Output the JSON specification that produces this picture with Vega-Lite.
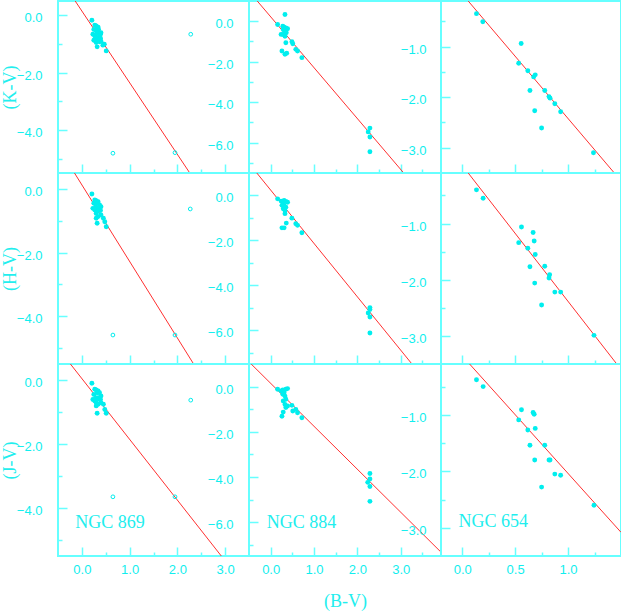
{
"$schema": "https://vega.github.io/schema/vega-lite/v6.json",
"padding": {"left": 0, "top": 0, "right": 0, "bottom": 0},
"background": "white",
"columns": 3,
"spacing": 0,
"bounds": "flush",
"datasets": {
"pts": [
{"p":"K869","x":0.21,"y":-0.17,"o":0},{"p":"K869","x":0.27,"y":-0.34,"o":0},{"p":"K869","x":0.30,"y":-0.37,"o":0},{"p":"K869","x":0.34,"y":-0.41,"o":0},{"p":"K869","x":0.25,"y":-0.49,"o":0},{"p":"K869","x":0.29,"y":-0.52,"o":0},{"p":"K869","x":0.35,"y":-0.49,"o":0},{"p":"K869","x":0.32,"y":-0.61,"o":0},{"p":"K869","x":0.23,"y":-0.66,"o":0},{"p":"K869","x":0.37,"y":-0.64,"o":0},{"p":"K869","x":0.40,"y":-0.61,"o":0},{"p":"K869","x":0.27,"y":-0.72,"o":0},{"p":"K869","x":0.30,"y":-0.78,"o":0},{"p":"K869","x":0.35,"y":-0.76,"o":0},{"p":"K869","x":0.39,"y":-0.80,"o":0},{"p":"K869","x":0.25,"y":-0.87,"o":0},{"p":"K869","x":0.32,"y":-0.87,"o":0},{"p":"K869","x":0.37,"y":-0.92,"o":0},{"p":"K869","x":0.40,"y":-0.90,"o":0},{"p":"K869","x":0.30,"y":-0.95,"o":0},{"p":"K869","x":0.47,"y":-1.01,"o":0},{"p":"K869","x":0.44,"y":-1.04,"o":0},{"p":"K869","x":0.32,"y":-1.10,"o":0},{"p":"K869","x":0.51,"y":-1.24,"o":0},{"p":"K869","x":0.39,"y":-0.66,"o":0},
{"p":"K869","x":2.28,"y":-0.66,"o":1},{"p":"K869","x":0.65,"y":-4.81,"o":1},{"p":"K869","x":1.95,"y":-4.79,"o":1},
{"p":"H869","x":0.21,"y":-0.16,"o":0},{"p":"H869","x":0.27,"y":-0.35,"o":0},{"p":"H869","x":0.30,"y":-0.37,"o":0},{"p":"H869","x":0.34,"y":-0.40,"o":0},{"p":"H869","x":0.25,"y":-0.45,"o":0},{"p":"H869","x":0.32,"y":-0.45,"o":0},{"p":"H869","x":0.37,"y":-0.50,"o":0},{"p":"H869","x":0.40,"y":-0.56,"o":0},{"p":"H869","x":0.29,"y":-0.56,"o":0},{"p":"H869","x":0.23,"y":-0.61,"o":0},{"p":"H869","x":0.35,"y":-0.61,"o":0},{"p":"H869","x":0.27,"y":-0.66,"o":0},{"p":"H869","x":0.32,"y":-0.71,"o":0},{"p":"H869","x":0.39,"y":-0.68,"o":0},{"p":"H869","x":0.30,"y":-0.77,"o":0},{"p":"H869","x":0.40,"y":-0.82,"o":0},{"p":"H869","x":0.34,"y":-0.87,"o":0},{"p":"H869","x":0.30,"y":-0.92,"o":0},{"p":"H869","x":0.45,"y":-0.92,"o":0},{"p":"H869","x":0.48,"y":-1.03,"o":0},{"p":"H869","x":0.32,"y":-1.08,"o":0},{"p":"H869","x":0.51,"y":-1.19,"o":0},
{"p":"H869","x":2.27,"y":-0.63,"o":1},{"p":"H869","x":0.65,"y":-4.59,"o":1},{"p":"H869","x":1.95,"y":-4.59,"o":1},
{"p":"J869","x":0.21,"y":-0.10,"o":0},{"p":"J869","x":0.27,"y":-0.29,"o":0},{"p":"J869","x":0.30,"y":-0.31,"o":0},{"p":"J869","x":0.34,"y":-0.34,"o":0},{"p":"J869","x":0.25,"y":-0.45,"o":0},{"p":"J869","x":0.32,"y":-0.40,"o":0},{"p":"J869","x":0.37,"y":-0.40,"o":0},{"p":"J869","x":0.40,"y":-0.50,"o":0},{"p":"J869","x":0.29,"y":-0.55,"o":0},{"p":"J869","x":0.23,"y":-0.61,"o":0},{"p":"J869","x":0.35,"y":-0.55,"o":0},{"p":"J869","x":0.27,"y":-0.66,"o":0},{"p":"J869","x":0.32,"y":-0.61,"o":0},{"p":"J869","x":0.39,"y":-0.61,"o":0},{"p":"J869","x":0.30,"y":-0.71,"o":0},{"p":"J869","x":0.40,"y":-0.71,"o":0},{"p":"J869","x":0.34,"y":-0.76,"o":0},{"p":"J869","x":0.30,"y":-0.81,"o":0},{"p":"J869","x":0.45,"y":-0.76,"o":0},{"p":"J869","x":0.48,"y":-0.92,"o":0},{"p":"J869","x":0.32,"y":-1.04,"o":0},{"p":"J869","x":0.51,"y":-1.04,"o":0},
{"p":"J869","x":2.28,"y":-0.63,"o":1},{"p":"J869","x":0.65,"y":-3.65,"o":1},{"p":"J869","x":1.95,"y":-3.65,"o":1},
{"p":"K884","x":0.33,"y":0.33,"o":0},{"p":"K884","x":0.16,"y":-0.16,"o":0},{"p":"K884","x":0.28,"y":-0.25,"o":0},{"p":"K884","x":0.31,"y":-0.29,"o":0},{"p":"K884","x":0.35,"y":-0.33,"o":0},{"p":"K884","x":0.39,"y":-0.37,"o":0},{"p":"K884","x":0.29,"y":-0.41,"o":0},{"p":"K884","x":0.33,"y":-0.49,"o":0},{"p":"K884","x":0.36,"y":-0.57,"o":0},{"p":"K884","x":0.24,"y":-0.65,"o":0},{"p":"K884","x":0.28,"y":-0.65,"o":0},{"p":"K884","x":0.33,"y":-0.74,"o":0},{"p":"K884","x":0.35,"y":-1.06,"o":0},{"p":"K884","x":0.49,"y":-1.01,"o":0},{"p":"K884","x":0.51,"y":-1.11,"o":0},{"p":"K884","x":0.58,"y":-1.39,"o":0},{"p":"K884","x":0.62,"y":-1.47,"o":0},{"p":"K884","x":0.26,"y":-1.47,"o":0},{"p":"K884","x":0.33,"y":-1.63,"o":0},{"p":"K884","x":0.37,"y":-1.58,"o":0},{"p":"K884","x":0.72,"y":-1.80,"o":0},{"p":"K884","x":2.29,"y":-5.28,"o":0},{"p":"K884","x":2.25,"y":-5.47,"o":0},{"p":"K884","x":2.29,"y":-5.72,"o":0},{"p":"K884","x":2.29,"y":-6.45,"o":0},
{"p":"H884","x":0.16,"y":-0.15,"o":0},{"p":"H884","x":0.24,"y":-0.25,"o":0},{"p":"H884","x":0.28,"y":-0.30,"o":0},{"p":"H884","x":0.31,"y":-0.22,"o":0},{"p":"H884","x":0.35,"y":-0.27,"o":0},{"p":"H884","x":0.39,"y":-0.30,"o":0},{"p":"H884","x":0.26,"y":-0.44,"o":0},{"p":"H884","x":0.31,"y":-0.44,"o":0},{"p":"H884","x":0.35,"y":-0.52,"o":0},{"p":"H884","x":0.29,"y":-0.59,"o":0},{"p":"H884","x":0.33,"y":-0.67,"o":0},{"p":"H884","x":0.33,"y":-0.81,"o":0},{"p":"H884","x":0.36,"y":-1.23,"o":0},{"p":"H884","x":0.49,"y":-1.01,"o":0},{"p":"H884","x":0.58,"y":-1.26,"o":0},{"p":"H884","x":0.62,"y":-1.33,"o":0},{"p":"H884","x":0.26,"y":-1.44,"o":0},{"p":"H884","x":0.31,"y":-1.44,"o":0},{"p":"H884","x":0.72,"y":-1.66,"o":0},{"p":"H884","x":2.29,"y":-4.99,"o":0},{"p":"H884","x":2.29,"y":-5.08,"o":0},{"p":"H884","x":2.25,"y":-5.23,"o":0},{"p":"H884","x":2.29,"y":-5.41,"o":0},{"p":"H884","x":2.29,"y":-6.12,"o":0},
{"p":"J884","x":0.16,"y":-0.12,"o":0},{"p":"J884","x":0.24,"y":-0.19,"o":0},{"p":"J884","x":0.28,"y":-0.15,"o":0},{"p":"J884","x":0.31,"y":-0.27,"o":0},{"p":"J884","x":0.35,"y":-0.12,"o":0},{"p":"J884","x":0.39,"y":-0.09,"o":0},{"p":"J884","x":0.28,"y":-0.34,"o":0},{"p":"J884","x":0.33,"y":-0.42,"o":0},{"p":"J884","x":0.35,"y":-0.56,"o":0},{"p":"J884","x":0.29,"y":-0.64,"o":0},{"p":"J884","x":0.33,"y":-0.79,"o":0},{"p":"J884","x":0.35,"y":-0.93,"o":0},{"p":"J884","x":0.29,"y":-1.13,"o":0},{"p":"J884","x":0.26,"y":-1.31,"o":0},{"p":"J884","x":0.49,"y":-0.83,"o":0},{"p":"J884","x":0.51,"y":-1.08,"o":0},{"p":"J884","x":0.58,"y":-1.01,"o":0},{"p":"J884","x":0.62,"y":-1.16,"o":0},{"p":"J884","x":0.72,"y":-1.38,"o":0},{"p":"J884","x":0.39,"y":-0.86,"o":0},{"p":"J884","x":2.29,"y":-3.85,"o":0},{"p":"J884","x":2.29,"y":-4.09,"o":0},{"p":"J884","x":2.24,"y":-4.24,"o":0},{"p":"J884","x":2.29,"y":-4.42,"o":0},{"p":"J884","x":2.29,"y":-5.08,"o":0},
{"p":"K654","x":0.135,"y":-0.35,"o":0},{"p":"K654","x":0.195,"y":-0.51,"o":0},{"p":"K654","x":0.557,"y":-0.94,"o":0},{"p":"K654","x":0.534,"y":-1.33,"o":0},{"p":"K654","x":0.62,"y":-1.48,"o":0},{"p":"K654","x":0.69,"y":-1.56,"o":0},{"p":"K654","x":0.675,"y":-1.60,"o":0},{"p":"K654","x":0.64,"y":-1.87,"o":0},{"p":"K654","x":0.78,"y":-1.87,"o":0},{"p":"K654","x":0.82,"y":-1.99,"o":0},{"p":"K654","x":0.83,"y":-2.02,"o":0},{"p":"K654","x":0.875,"y":-2.13,"o":0},{"p":"K654","x":0.685,"y":-2.27,"o":0},{"p":"K654","x":0.93,"y":-2.29,"o":0},{"p":"K654","x":0.75,"y":-2.61,"o":0},{"p":"K654","x":1.24,"y":-3.10,"o":0},
{"p":"H654","x":0.135,"y":-0.40,"o":0},{"p":"H654","x":0.198,"y":-0.55,"o":0},{"p":"H654","x":0.56,"y":-1.06,"o":0},{"p":"H654","x":0.67,"y":-1.16,"o":0},{"p":"H654","x":0.68,"y":-1.31,"o":0},{"p":"H654","x":0.534,"y":-1.34,"o":0},{"p":"H654","x":0.62,"y":-1.44,"o":0},{"p":"H654","x":0.69,"y":-1.55,"o":0},{"p":"H654","x":0.64,"y":-1.77,"o":0},{"p":"H654","x":0.78,"y":-1.76,"o":0},{"p":"H654","x":0.826,"y":-1.91,"o":0},{"p":"H654","x":0.82,"y":-1.97,"o":0},{"p":"H654","x":0.685,"y":-2.06,"o":0},{"p":"H654","x":0.875,"y":-2.22,"o":0},{"p":"H654","x":0.93,"y":-2.22,"o":0},{"p":"H654","x":0.75,"y":-2.45,"o":0},{"p":"H654","x":1.245,"y":-2.99,"o":0},
{"p":"J654","x":0.135,"y":-0.38,"o":0},{"p":"J654","x":0.198,"y":-0.50,"o":0},{"p":"J654","x":0.56,"y":-0.91,"o":0},{"p":"J654","x":0.67,"y":-0.96,"o":0},{"p":"J654","x":0.68,"y":-0.99,"o":0},{"p":"J654","x":0.534,"y":-1.09,"o":0},{"p":"J654","x":0.62,"y":-1.27,"o":0},{"p":"J654","x":0.69,"y":-1.24,"o":0},{"p":"J654","x":0.64,"y":-1.54,"o":0},{"p":"J654","x":0.78,"y":-1.54,"o":0},{"p":"J654","x":0.82,"y":-1.80,"o":0},{"p":"J654","x":0.83,"y":-1.80,"o":0},{"p":"J654","x":0.685,"y":-1.80,"o":0},{"p":"J654","x":0.875,"y":-2.05,"o":0},{"p":"J654","x":0.93,"y":-2.07,"o":0},{"p":"J654","x":0.75,"y":-2.28,"o":0},{"p":"J654","x":1.245,"y":-2.60,"o":0}
],
"lines": [
{"p":"K869","x":-0.14,"y":0.5},{"p":"K869","x":2.26,"y":-5.5},
{"p":"H869","x":-0.155,"y":0.5},{"p":"H869","x":2.34,"y":-5.5},
{"p":"J869","x":-0.24,"y":0.5},{"p":"J869","x":2.92,"y":-5.5},
{"p":"K884","x":-0.31,"y":1.0},{"p":"K884","x":3.07,"y":-7.5},
{"p":"H884","x":-0.32,"y":1.0},{"p":"H884","x":3.26,"y":-7.5},
{"p":"J884","x":-0.45,"y":1.0},{"p":"J884","x":3.93,"y":-7.33},
{"p":"K654","x":0.057,"y":-0.1},{"p":"K654","x":1.437,"y":-3.5},
{"p":"H654","x":0.057,"y":-0.1},{"p":"H654","x":1.46,"y":-3.5},
{"p":"J654","x":0.07,"y":-0.1},{"p":"J654","x":1.5,"y":-3.08}
],
"labels": [
{"p":"J869","x":-0.14,"y":-4.62,"t":"NGC 869"},
{"p":"J884","x":-0.09,"y":-6.25,"t":"NGC 884"},
{"p":"J654","x":-0.035,"y":-2.99,"t":"NGC 654"}
]
},
"concat": [
{"width":191,"height":172,"resolve":{"axis":{"x":"independent","y":"independent"}},"layer":[
 {"data":{"name":"lines"},"transform":[{"filter":"datum.p=='K869'"}],"mark":{"type":"line","color":"#ff3030","strokeWidth":1,"clip":true},
  "encoding":{"x":{"field":"x","type":"quantitative","scale":{"domain":[-0.5,3.5],"nice":false,"zero":false},"axis":{"orient":"bottom","values":[0.5,1.5,2.5],"tickSize":-4,"labels":false,"title":null}},
              "y":{"field":"y","type":"quantitative","scale":{"domain":[-5.5,0.5],"nice":false,"zero":false},"axis":{"orient":"left","values":[-1,-3,-5],"tickSize":-4,"labels":false,"title":null}}}},
 {"data":{"name":"pts"},"transform":[{"filter":"datum.p=='K869' && datum.o==0"}],"mark":{"type":"point","shape":"circle","filled":true,"color":"#00eeee","size":24,"opacity":1},
  "encoding":{"x":{"field":"x","type":"quantitative","axis":{"orient":"bottom","values":[0,1,2,3],"tickSize":-9,"labels":false,"title":null}},
              "y":{"field":"y","type":"quantitative","axis":{"orient":"left","values":[0,-2,-4],"tickSize":-9,"labelPadding":25,"labelOffset":2.5,"title":"(K-V)","titlePadding":-3}}}},
 {"data":{"name":"pts"},"transform":[{"filter":"datum.p=='K869' && datum.o==1"}],"mark":{"type":"point","shape":"circle","filled":false,"color":"#00eeee","size":14,"strokeWidth":1,"opacity":1},
  "encoding":{"x":{"field":"x","type":"quantitative","axis":null},"y":{"field":"y","type":"quantitative","axis":null}}}
]},
{"width":192,"height":172,"resolve":{"axis":{"x":"independent","y":"independent"}},"layer":[
 {"data":{"name":"lines"},"transform":[{"filter":"datum.p=='K884'"}],"mark":{"type":"line","color":"#ff3030","strokeWidth":1,"clip":true},
  "encoding":{"x":{"field":"x","type":"quantitative","scale":{"domain":[-0.5,3.93],"nice":false,"zero":false},"axis":{"orient":"bottom","values":[0.5,1.5,2.5,3.5],"tickSize":-4,"labels":false,"title":null}},
              "y":{"field":"y","type":"quantitative","scale":{"domain":[-7.5,1.0],"nice":false,"zero":false},"axis":{"orient":"left","values":[-1,-3,-5,-7],"tickSize":-4,"labels":false,"title":null}}}},
 {"data":{"name":"pts"},"transform":[{"filter":"datum.p=='K884'"}],"mark":{"type":"point","shape":"circle","filled":true,"color":"#00eeee","size":24,"opacity":1},
  "encoding":{"x":{"field":"x","type":"quantitative","axis":{"orient":"bottom","values":[0,1,2,3],"tickSize":-9,"labels":false,"title":null}},
              "y":{"field":"y","type":"quantitative","axis":{"orient":"left","values":[0,-2,-4,-6],"tickSize":-9,"labelPadding":25,"labelOffset":2.5,"title":null}}}}
]},
{"width":180,"height":172,"resolve":{"axis":{"x":"independent","y":"independent"}},"layer":[
 {"data":{"name":"lines"},"transform":[{"filter":"datum.p=='K654'"}],"mark":{"type":"line","color":"#ff3030","strokeWidth":1,"clip":true},
  "encoding":{"x":{"field":"x","type":"quantitative","scale":{"domain":[-0.2,1.5],"nice":false,"zero":false},"axis":{"orient":"bottom","values":[0.25,0.75,1.25],"tickSize":-4,"labels":false,"title":null}},
              "y":{"field":"y","type":"quantitative","scale":{"domain":[-3.5,-0.1],"nice":false,"zero":false},"axis":{"orient":"left","values":[-0.5,-1.5,-2.5],"tickSize":-4,"labels":false,"title":null}}}},
 {"data":{"name":"pts"},"transform":[{"filter":"datum.p=='K654'"}],"mark":{"type":"point","shape":"circle","filled":true,"color":"#00eeee","size":24,"opacity":1},
  "encoding":{"x":{"field":"x","type":"quantitative","axis":{"orient":"bottom","values":[0,0.5,1],"tickSize":-9,"labels":false,"title":null}},
              "y":{"field":"y","type":"quantitative","axis":{"orient":"left","values":[-1,-2,-3],"tickSize":-9,"labelPadding":24,"labelOffset":2.5,"title":null}}}}
]},
{"width":191,"height":191,"resolve":{"axis":{"x":"independent","y":"independent"}},"layer":[
 {"data":{"name":"lines"},"transform":[{"filter":"datum.p=='H869'"}],"mark":{"type":"line","color":"#ff3030","strokeWidth":1,"clip":true},
  "encoding":{"x":{"field":"x","type":"quantitative","scale":{"domain":[-0.5,3.5],"nice":false,"zero":false},"axis":{"orient":"bottom","values":[0.5,1.5,2.5],"tickSize":-4,"labels":false,"title":null}},
              "y":{"field":"y","type":"quantitative","scale":{"domain":[-5.5,0.5],"nice":false,"zero":false},"axis":{"orient":"left","values":[-1,-3,-5],"tickSize":-4,"labels":false,"title":null}}}},
 {"data":{"name":"pts"},"transform":[{"filter":"datum.p=='H869' && datum.o==0"}],"mark":{"type":"point","shape":"circle","filled":true,"color":"#00eeee","size":24,"opacity":1},
  "encoding":{"x":{"field":"x","type":"quantitative","axis":{"orient":"bottom","values":[0,1,2,3],"tickSize":-9,"labels":false,"title":null}},
              "y":{"field":"y","type":"quantitative","axis":{"orient":"left","values":[0,-2,-4],"tickSize":-9,"labelPadding":25,"labelOffset":2.5,"title":"(H-V)","titlePadding":-3}}}},
 {"data":{"name":"pts"},"transform":[{"filter":"datum.p=='H869' && datum.o==1"}],"mark":{"type":"point","shape":"circle","filled":false,"color":"#00eeee","size":14,"strokeWidth":1,"opacity":1},
  "encoding":{"x":{"field":"x","type":"quantitative","axis":null},"y":{"field":"y","type":"quantitative","axis":null}}}
]},
{"width":192,"height":191,"resolve":{"axis":{"x":"independent","y":"independent"}},"layer":[
 {"data":{"name":"lines"},"transform":[{"filter":"datum.p=='H884'"}],"mark":{"type":"line","color":"#ff3030","strokeWidth":1,"clip":true},
  "encoding":{"x":{"field":"x","type":"quantitative","scale":{"domain":[-0.5,3.93],"nice":false,"zero":false},"axis":{"orient":"bottom","values":[0.5,1.5,2.5,3.5],"tickSize":-4,"labels":false,"title":null}},
              "y":{"field":"y","type":"quantitative","scale":{"domain":[-7.5,1.0],"nice":false,"zero":false},"axis":{"orient":"left","values":[-1,-3,-5,-7],"tickSize":-4,"labels":false,"title":null}}}},
 {"data":{"name":"pts"},"transform":[{"filter":"datum.p=='H884'"}],"mark":{"type":"point","shape":"circle","filled":true,"color":"#00eeee","size":24,"opacity":1},
  "encoding":{"x":{"field":"x","type":"quantitative","axis":{"orient":"bottom","values":[0,1,2,3],"tickSize":-9,"labels":false,"title":null}},
              "y":{"field":"y","type":"quantitative","axis":{"orient":"left","values":[0,-2,-4,-6],"tickSize":-9,"labelPadding":25,"labelOffset":2.5,"title":null}}}}
]},
{"width":180,"height":191,"resolve":{"axis":{"x":"independent","y":"independent"}},"layer":[
 {"data":{"name":"lines"},"transform":[{"filter":"datum.p=='H654'"}],"mark":{"type":"line","color":"#ff3030","strokeWidth":1,"clip":true},
  "encoding":{"x":{"field":"x","type":"quantitative","scale":{"domain":[-0.2,1.5],"nice":false,"zero":false},"axis":{"orient":"bottom","values":[0.25,0.75,1.25],"tickSize":-4,"labels":false,"title":null}},
              "y":{"field":"y","type":"quantitative","scale":{"domain":[-3.5,-0.1],"nice":false,"zero":false},"axis":{"orient":"left","values":[-0.5,-1.5,-2.5],"tickSize":-4,"labels":false,"title":null}}}},
 {"data":{"name":"pts"},"transform":[{"filter":"datum.p=='H654'"}],"mark":{"type":"point","shape":"circle","filled":true,"color":"#00eeee","size":24,"opacity":1},
  "encoding":{"x":{"field":"x","type":"quantitative","axis":{"orient":"bottom","values":[0,0.5,1],"tickSize":-9,"labels":false,"title":null}},
              "y":{"field":"y","type":"quantitative","axis":{"orient":"left","values":[-1,-2,-3],"tickSize":-9,"labelPadding":24,"labelOffset":2.5,"title":null}}}}
]},
{"width":191,"height":192,"resolve":{"axis":{"x":"independent","y":"independent"}},"layer":[
 {"data":{"name":"lines"},"transform":[{"filter":"datum.p=='J869'"}],"mark":{"type":"line","color":"#ff3030","strokeWidth":1,"clip":true},
  "encoding":{"x":{"field":"x","type":"quantitative","scale":{"domain":[-0.5,3.5],"nice":false,"zero":false},"axis":{"orient":"bottom","values":[0.5,1.5,2.5],"tickSize":-4,"labels":false,"title":null}},
              "y":{"field":"y","type":"quantitative","scale":{"domain":[-5.5,0.5],"nice":false,"zero":false},"axis":{"orient":"left","values":[-1,-3,-5],"tickSize":-4,"labels":false,"title":null}}}},
 {"data":{"name":"pts"},"transform":[{"filter":"datum.p=='J869' && datum.o==0"}],"mark":{"type":"point","shape":"circle","filled":true,"color":"#00eeee","size":24,"opacity":1},
  "encoding":{"x":{"field":"x","type":"quantitative","axis":{"orient":"bottom","values":[0,1,2,3],"tickSize":-9,"labelPadding":16,"title":null}},
              "y":{"field":"y","type":"quantitative","axis":{"orient":"left","values":[0,-2,-4],"tickSize":-9,"labelPadding":25,"labelOffset":2.5,"title":"(J-V)","titlePadding":-3}}}},
 {"data":{"name":"pts"},"transform":[{"filter":"datum.p=='J869' && datum.o==1"}],"mark":{"type":"point","shape":"circle","filled":false,"color":"#00eeee","size":14,"strokeWidth":1,"opacity":1},
  "encoding":{"x":{"field":"x","type":"quantitative","axis":null},"y":{"field":"y","type":"quantitative","axis":null}}},
 {"data":{"name":"labels"},"transform":[{"filter":"datum.p=='J869'"}],"mark":{"type":"text","align":"left","baseline":"alphabetic","font":"Liberation Serif","fontSize":18,"color":"#22eeee"},
  "encoding":{"x":{"field":"x","type":"quantitative","axis":null},"y":{"field":"y","type":"quantitative","axis":null},"text":{"field":"t"}}}
]},
{"width":192,"height":192,"resolve":{"axis":{"x":"independent","y":"independent"}},"layer":[
 {"data":{"name":"lines"},"transform":[{"filter":"datum.p=='J884'"}],"mark":{"type":"line","color":"#ff3030","strokeWidth":1,"clip":true},
  "encoding":{"x":{"field":"x","type":"quantitative","scale":{"domain":[-0.5,3.93],"nice":false,"zero":false},"axis":{"orient":"bottom","values":[0.5,1.5,2.5,3.5],"tickSize":-4,"labels":false,"title":null}},
              "y":{"field":"y","type":"quantitative","scale":{"domain":[-7.5,1.0],"nice":false,"zero":false},"axis":{"orient":"left","values":[-1,-3,-5,-7],"tickSize":-4,"labels":false,"title":null}}}},
 {"data":{"name":"pts"},"transform":[{"filter":"datum.p=='J884'"}],"mark":{"type":"point","shape":"circle","filled":true,"color":"#00eeee","size":24,"opacity":1},
  "encoding":{"x":{"field":"x","type":"quantitative","axis":{"orient":"bottom","values":[0,1,2,3],"tickSize":-9,"labelPadding":16,"title":"(B-V)","titlePadding":16}},
              "y":{"field":"y","type":"quantitative","axis":{"orient":"left","values":[0,-2,-4,-6],"tickSize":-9,"labelPadding":25,"labelOffset":2.5,"title":null}}}},
 {"data":{"name":"labels"},"transform":[{"filter":"datum.p=='J884'"}],"mark":{"type":"text","align":"left","baseline":"alphabetic","font":"Liberation Serif","fontSize":18,"color":"#22eeee"},
  "encoding":{"x":{"field":"x","type":"quantitative","axis":null},"y":{"field":"y","type":"quantitative","axis":null},"text":{"field":"t"}}}
]},
{"width":180,"height":192,"resolve":{"axis":{"x":"independent","y":"independent"}},"layer":[
 {"data":{"name":"lines"},"transform":[{"filter":"datum.p=='J654'"}],"mark":{"type":"line","color":"#ff3030","strokeWidth":1,"clip":true},
  "encoding":{"x":{"field":"x","type":"quantitative","scale":{"domain":[-0.2,1.5],"nice":false,"zero":false},"axis":{"orient":"bottom","values":[0.25,0.75,1.25],"tickSize":-4,"labels":false,"title":null}},
              "y":{"field":"y","type":"quantitative","scale":{"domain":[-3.5,-0.1],"nice":false,"zero":false},"axis":{"orient":"left","values":[-0.5,-1.5,-2.5],"tickSize":-4,"labels":false,"title":null}}}},
 {"data":{"name":"pts"},"transform":[{"filter":"datum.p=='J654'"}],"mark":{"type":"point","shape":"circle","filled":true,"color":"#00eeee","size":24,"opacity":1},
  "encoding":{"x":{"field":"x","type":"quantitative","axis":{"orient":"bottom","values":[0,0.5,1],"tickSize":-9,"labelPadding":16,"title":null}},
              "y":{"field":"y","type":"quantitative","axis":{"orient":"left","values":[-1,-2,-3],"tickSize":-9,"labelPadding":24,"labelOffset":2.5,"title":null}}}},
 {"data":{"name":"labels"},"transform":[{"filter":"datum.p=='J654'"}],"mark":{"type":"text","align":"left","baseline":"alphabetic","font":"Liberation Serif","fontSize":18,"color":"#22eeee"},
  "encoding":{"x":{"field":"x","type":"quantitative","axis":null},"y":{"field":"y","type":"quantitative","axis":null},"text":{"field":"t"}}}
]}
],
"config": {
 "view": {"stroke": "#66ffff", "strokeWidth": 2},
 "axis": {"domain": false, "grid": false, "ticks": true, "tickColor": "#66ffff", "tickWidth": 1.5, "labelColor": "#11eeee", "labelFont": "Liberation Sans", "labelFontSize": 13, "titleColor": "#22eeee", "titleFont": "Liberation Serif", "titleFontSize": 18, "titleFontWeight": "normal", "format": ".1f", "labelFlush": false, "labelOverlap": false}
}
}
